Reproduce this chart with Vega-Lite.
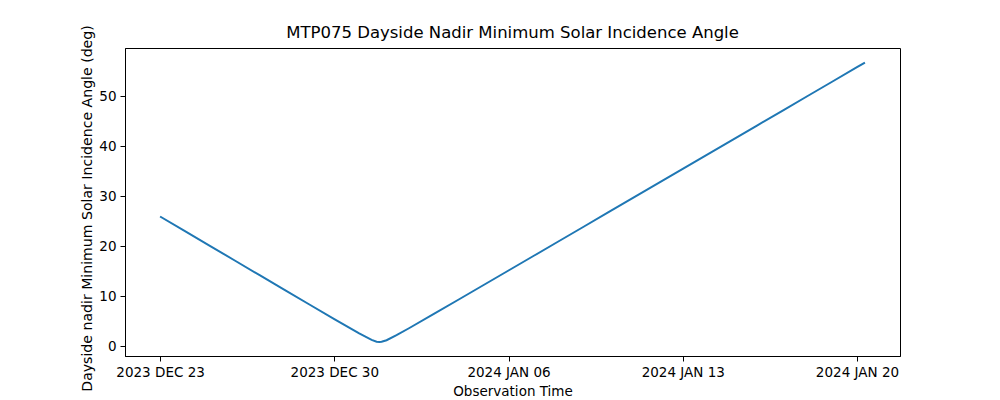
{
  "$schema": "https://vega.github.io/schema/vega-lite/v6.json",
  "width": 775,
  "height": 308,
  "autosize": {"type": "none"},
  "padding": {"left": 125, "top": 48, "right": 100, "bottom": 44},
  "background": "white",
  "title": {
    "text": "MTP075 Dayside Nadir Minimum Solar Incidence Angle",
    "font": "DejaVu Sans",
    "fontSize": 16.5,
    "fontWeight": "normal",
    "color": "black",
    "offset": 3,
    "dy": 20,
    "anchor": "middle"
  },
  "config": {
    "view": {"stroke": "black", "strokeWidth": 1},
    "axis": {
      "labelFont": "DejaVu Sans",
      "titleFont": "DejaVu Sans",
      "labelFontSize": 13.5,
      "titleFontSize": 13.5,
      "titleFontWeight": "normal",
      "labelColor": "black",
      "titleColor": "black",
      "domainColor": "black",
      "tickColor": "black",
      "tickSize": 5,
      "grid": false
    }
  },
  "data": {
    "values": [
      {"time": "2023-12-23T00:00:00", "angle": 25.90},
      {"time": "2023-12-24T00:00:00", "angle": 22.96},
      {"time": "2023-12-25T00:00:00", "angle": 20.04},
      {"time": "2023-12-26T00:00:00", "angle": 17.10},
      {"time": "2023-12-27T00:00:00", "angle": 14.16},
      {"time": "2023-12-28T00:00:00", "angle": 11.23},
      {"time": "2023-12-29T00:00:00", "angle": 8.30},
      {"time": "2023-12-30T00:00:00", "angle": 5.38},
      {"time": "2023-12-31T00:00:00", "angle": 2.51},
      {"time": "2023-12-31T12:00:00", "angle": 1.21},
      {"time": "2023-12-31T16:48:00", "angle": 0.86},
      {"time": "2023-12-31T19:26:00", "angle": 0.80},
      {"time": "2023-12-31T21:36:00", "angle": 0.84},
      {"time": "2024-01-01T02:24:00", "angle": 1.16},
      {"time": "2024-01-01T12:00:00", "angle": 2.16},
      {"time": "2024-01-02T00:00:00", "angle": 3.55},
      {"time": "2024-01-03T00:00:00", "angle": 6.41},
      {"time": "2024-01-04T00:00:00", "angle": 9.30},
      {"time": "2024-01-05T00:00:00", "angle": 12.20},
      {"time": "2024-01-06T00:00:00", "angle": 15.10},
      {"time": "2024-01-07T00:00:00", "angle": 18.00},
      {"time": "2024-01-08T00:00:00", "angle": 20.90},
      {"time": "2024-01-09T00:00:00", "angle": 23.80},
      {"time": "2024-01-10T00:00:00", "angle": 26.71},
      {"time": "2024-01-11T00:00:00", "angle": 29.61},
      {"time": "2024-01-12T00:00:00", "angle": 32.52},
      {"time": "2024-01-13T00:00:00", "angle": 35.42},
      {"time": "2024-01-14T00:00:00", "angle": 38.33},
      {"time": "2024-01-15T00:00:00", "angle": 41.23},
      {"time": "2024-01-16T00:00:00", "angle": 44.14},
      {"time": "2024-01-17T00:00:00", "angle": 47.04},
      {"time": "2024-01-18T00:00:00", "angle": 49.95},
      {"time": "2024-01-19T00:00:00", "angle": 52.85},
      {"time": "2024-01-20T00:00:00", "angle": 55.76},
      {"time": "2024-01-20T07:41:00", "angle": 56.69}
    ]
  },
  "mark": {"type": "line", "color": "#1f77b4", "strokeWidth": 2, "clip": true},
  "encoding": {
    "x": {
      "field": "time",
      "type": "temporal",
      "title": "Observation Time",
      "scale": {
        "domain": [
          {"year": 2023, "month": 12, "date": 21, "hours": 14, "minutes": 10},
          {"year": 2024, "month": 1, "date": 21, "hours": 17, "minutes": 30}
        ],
        "nice": false
      },
      "axis": {
        "values": [
          {"year": 2023, "month": 12, "date": 23},
          {"year": 2023, "month": 12, "date": 30},
          {"year": 2024, "month": 1, "date": 6},
          {"year": 2024, "month": 1, "date": 13},
          {"year": 2024, "month": 1, "date": 20}
        ],
        "labelExpr": "upper(timeFormat(datum.value, '%Y %b %d'))",
        "labelPadding": 4,
        "titlePadding": 6,
        "labelFlush": false,
        "labelOverlap": false
      }
    },
    "y": {
      "field": "angle",
      "type": "quantitative",
      "title": "Dayside nadir Minimum Solar Incidence Angle (deg)",
      "scale": {"domain": [-2.0, 59.6], "nice": false, "zero": false},
      "axis": {
        "values": [0, 10, 20, 30, 40, 50],
        "labelPadding": 4,
        "titlePadding": 4,
        "titleFontSize": 14.1,
        "titleY": 160
      }
    }
  }
}
